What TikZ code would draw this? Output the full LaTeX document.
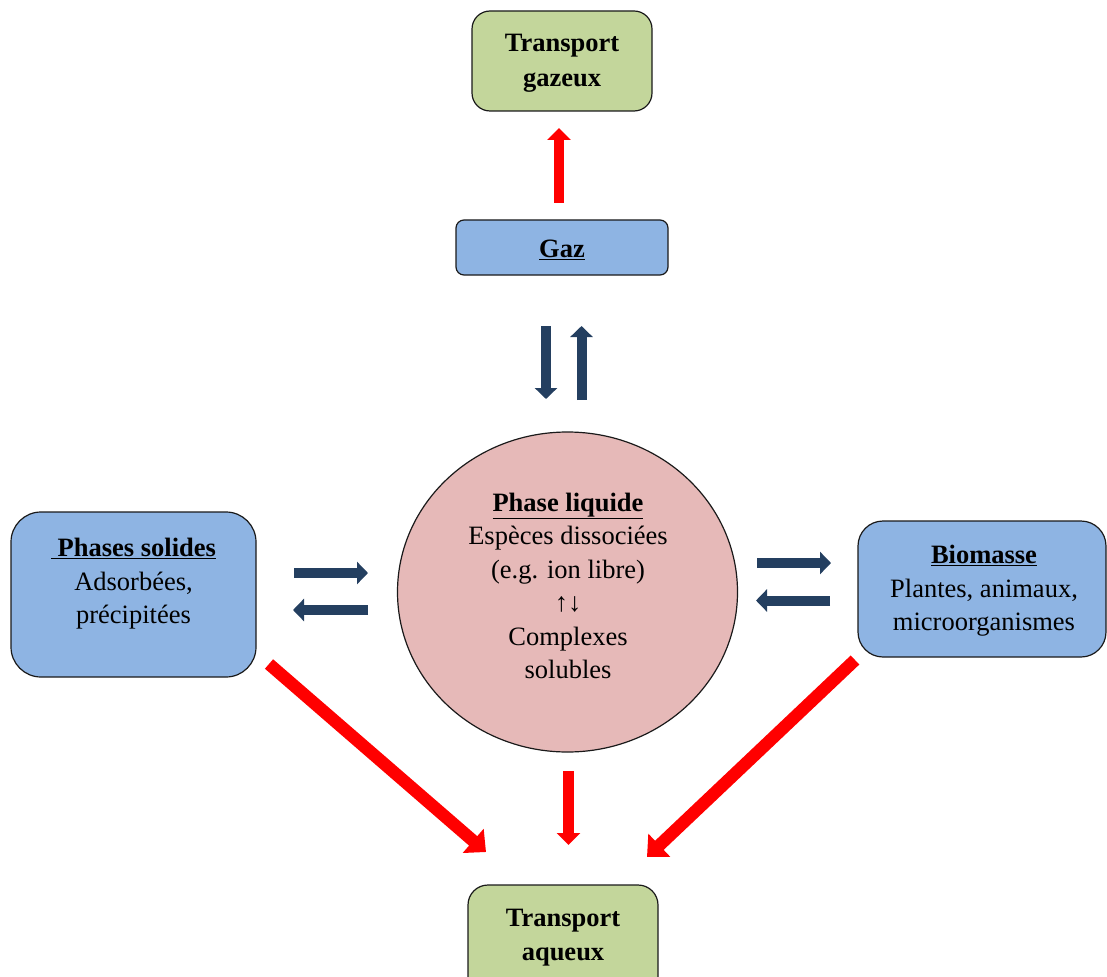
\documentclass[tikz,border=0pt]{standalone}
\usepackage{fontspec}
\setmainfont{Liberation Serif}
\usetikzlibrary{arrows.meta,shapes.geometric}
\definecolor{boxgreen}{HTML}{C3D69B}
\definecolor{boxblue}{HTML}{8EB4E3}
\definecolor{boxpink}{HTML}{E6B9B8}
\definecolor{navy}{HTML}{243F60}
\definecolor{edge}{HTML}{1A1A1A}
\tikzset{
  box/.style={draw=edge, line width=1.2pt, inner sep=0pt},
  txt/.style={align=center, inner sep=0pt, font=\fontsize{26.5}{33.5}\selectfont},
  redarrow/.style={draw=red, line width=10.5pt, -{Triangle[length=12pt,width=23pt]}},
  reddiag/.style={draw=red, line width=12.5pt, -{Triangle[length=17pt,width=31pt]}},
  bluearrow/.style={draw=navy, line width=10pt, -{Triangle[length=11pt,width=22pt]}},
}
\begin{document}
\begin{tikzpicture}[x=1pt,y=-1pt]
\useasboundingbox (0,0) rectangle (1107,976);
% boxes
\node[box, fill=boxgreen, rounded corners=18pt, minimum width=180pt, minimum height=100pt] (tg) at (562,61) {};
\node[txt, font=\fontsize{26.5}{35}\selectfont\bfseries] (tgt) at (562,63) {Transport\\gazeux};
\node[box, fill=boxblue, rounded corners=8pt, minimum width=212pt, minimum height=55pt] (gaz) at (562,247.5) {};
\node[txt, font=\fontsize{26.5}{33.5}\selectfont\bfseries] (gazt) at (562,250) {\underline{Gaz}};
\node[box, fill=boxpink, ellipse, minimum width=340pt, minimum height=320pt] (liq) at (567.5,592) {};
\node[txt] (liqt) at (568,586) {\textbf{\underline{Phase liquide}}\\Espèces dissociées\\(e.g. ion libre)\\↑↓\\Complexes\\solubles};
\node[box, fill=boxblue, rounded corners=30pt, minimum width=245pt, minimum height=165pt] (sol) at (133.5,594.5) {};
\node[txt] (solt) at (133.5,584) {\textbf{\underline{~Phases solides}}\\Adsorbées,\\précipitées};
\node[box, fill=boxblue, rounded corners=25pt, minimum width=248pt, minimum height=136pt] (bio) at (982,589) {};
\node[txt] (biot) at (984,591) {\textbf{\underline{Biomasse}}\\Plantes, animaux,\\microorganismes};
\node[box, fill=boxgreen, rounded corners=20pt, minimum width=190pt, minimum height=120pt] (ta) at (563,945) {};
\node[txt, font=\fontsize{26.5}{34}\selectfont\bfseries] (tat) at (563,938) {Transport\\aqueux};
% arrow end points
\coordinate (g1) at (559,203); \coordinate (g2) at (559,128);
\coordinate (d1) at (546,326); \coordinate (d2) at (546,399);
\coordinate (u1) at (581.5,400); \coordinate (u2) at (581.5,326);
\coordinate (l1) at (294,573); \coordinate (l2) at (368,573);
\coordinate (l3) at (368,610); \coordinate (l4) at (293,610);
\coordinate (r1) at (757,563); \coordinate (r2) at (831,563);
\coordinate (r3) at (830,600.5); \coordinate (r4) at (756,600.5);
\coordinate (a1) at (269,664); \coordinate (a2) at (486,852);
\coordinate (b1) at (568.5,771); \coordinate (b2) at (568.5,845);
\coordinate (c1) at (855,660); \coordinate (c2) at (647,857);
% arrows
\draw[redarrow] (g1) -- (g2);
\draw[bluearrow] (d1) -- (d2);
\draw[bluearrow] (u1) -- (u2);
\draw[bluearrow] (l1) -- (l2);
\draw[bluearrow] (l3) -- (l4);
\draw[bluearrow] (r1) -- (r2);
\draw[bluearrow] (r3) -- (r4);
\draw[reddiag] (a1) -- (a2);
\draw[redarrow] (b1) -- (b2);
\draw[reddiag] (c1) -- (c2);
\end{tikzpicture}
\end{document}
